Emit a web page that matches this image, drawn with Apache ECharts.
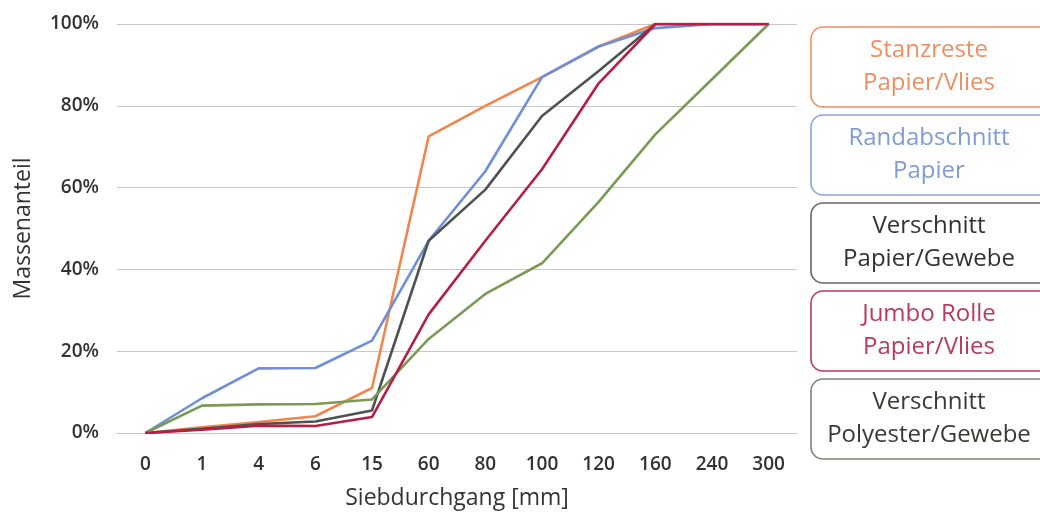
<!DOCTYPE html>
<html>
<head>
<meta charset="utf-8">
<script src="https://cdn.jsdelivr.net/npm/echarts@6/dist/echarts.min.js"></script>
<style>
  html, body { margin: 0; padding: 0; background: #fff; }
  #chart { width: 1040px; height: 517px; }
</style>
</head>
<body>
<div id="chart"></div>
<script>
// sieve sizes (mm)
const categories = ['0', '1', '4', '6', '15', '60', '80', '100', '120', '160', '240', '300']
const yTicks = [0, 20, 40, 60, 80, 100]

// Massenanteil in %
const stanzreste = [0, 1.4, 2.7, 4.1, 11, 72.5, 80, 87, 94.5, 100, 100, 100]
const randabschnitt = [0, 8.5, 15.8, 15.9, 22.6, 47, 64, 87, 94.5, 99, 100, 100]
const verschnittPapier = [0, 1, 2.2, 2.8, 5.5, 47, 59.5, 77.5, 88.5, 100, 100, 100]
const jumboRolle = [0, 0.8, 1.8, 1.7, 3.9, 29, 47, 64.5, 85.5, 100, 100, 100]
const verschnittPolyester = [0, 6.7, 7, 7.1, 8.2, 23, 34, 41.5, 56.5, 73, 86.5, 100]

const seriesNames = [
  ['Stanzreste', 'Papier/Vlies'],
  ['Randabschnitt', 'Papier'],
  ['Verschnitt', 'Papier/Gewebe'],
  ['Jumbo Rolle', 'Papier/Vlies'],
  ['Verschnitt', 'Polyester/Gewebe']
]
const seriesData = [stanzreste, randabschnitt, verschnittPapier, jumboRolle, verschnittPolyester]

const LINE_COLORS = ['#f0864e', '#6f8fd6', '#4d5252', '#b51f45', '#7a9a55']
const BOX_COLORS = ['#f0905f', '#8aa6dd', '#676767', '#c0395a', '#7d8575']
const TEXT_COLORS = ['#f08e62', '#7f9bd8', '#333333', '#b83a5c', '#363b33']
const FONT = '"Open Sans", "DejaVu Sans", sans-serif'

const chart = echarts.init(document.getElementById('chart'))

const legendBoxes = seriesNames.map((lines, i) => {
  const top = 27 + i * 88
  return {
    type: 'group',
    children: [
      {
        type: 'rect',
        shape: { x: 811, y: top, width: 240, height: 80, r: 12 },
        style: { fill: '#fff', stroke: BOX_COLORS[i], lineWidth: 1.6 }
      },
      {
        type: 'text',
        x: 929,
        y: top + 40,
        style: {
          text: lines.join('\n'),
          fill: TEXT_COLORS[i],
          font: '24px ' + FONT,
          lineHeight: 33,
          align: 'center',
          verticalAlign: 'middle'
        }
      }
    ]
  }
})

const option = {
  animation: false,
  backgroundColor: '#fff',
  grid: { left: 117, right: 243, top: 24, bottom: 84 },
  xAxis: {
    type: 'category',
    data: categories,
    boundaryGap: true,
    name: 'Siebdurchgang [mm]',
    nameLocation: 'middle',
    nameGap: 54,
    nameTextStyle: { fontFamily: FONT, fontSize: 23, color: '#333' },
    axisLine: { show: true, lineStyle: { color: '#c8c8c8', width: 1 } },
    axisTick: { show: false },
    axisLabel: { interval: 0, margin: 22, fontFamily: FONT, fontSize: 19, fontWeight: 600, color: '#333' },
    splitLine: { show: false }
  },
  yAxis: {
    type: 'value',
    min: yTicks[0],
    max: yTicks[yTicks.length - 1],
    interval: 20,
    name: 'Massenanteil',
    nameLocation: 'middle',
    nameGap: 82,
    nameTextStyle: { fontFamily: FONT, fontSize: 23, color: '#333' },
    axisLine: { show: false },
    axisTick: { show: false },
    axisLabel: { margin: 18, fontFamily: FONT, fontSize: 19, fontWeight: 600, color: '#333', formatter: '{value}%' },
    splitLine: { lineStyle: { color: '#c8c8c8', width: 1 } }
  },
  series: seriesData.map((d, i) => ({
    type: 'line',
    name: seriesNames[i].join(' '),
    data: d,
    symbol: 'none',
    lineStyle: { color: LINE_COLORS[i], width: 2.6 },
    itemStyle: { color: LINE_COLORS[i] },
    z: i === 3 ? 5 : 2
  })),
  graphic: legendBoxes
}

chart.setOption(option)
</script>
</body>
</html>
